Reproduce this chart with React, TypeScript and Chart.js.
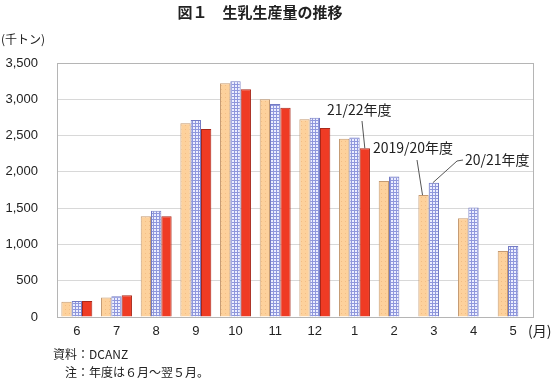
import React, { useEffect, useRef } from "react";
import { Chart, registerables } from "chart.js";

Chart.register(...registerables);

const categories = ["6", "7", "8", "9", "10", "11", "12", "1", "2", "3", "4", "5"];
const fy2019 = [210, 270, 1390, 2670, 3220, 3000, 2725, 2455, 1875, 1680, 1360, 910];
const fy2020 = [220, 285, 1465, 2715, 3250, 2935, 2745, 2475, 1935, 1850, 1510, 980];
const fy2021 = [220, 300, 1390, 2590, 3140, 2885, 2605, 2325, null, null, null, null];
const seriesNames = ["2019/20年度", "20/21年度", "21/22年度"];
const yTicks = [0, 500, 1000, 1500, 2000, 2500, 3000, 3500];

const titleText = "図１　生乳生産量の推移";
const unitText = "(千トン)";
const monthText = "(月)";
const sourceText = "資料：DCANZ";
const noteText = "注：年度は６月～翌５月。";

const JP = '"Noto Sans CJK JP", "Noto Sans", sans-serif';
const NUM = '"Liberation Sans", Arial, "Noto Sans CJK JP", sans-serif';

function makePattern(kind: "dots" | "grid") {
  const c = document.createElement("canvas");
  const ctx = c.getContext("2d")!;
  if (kind === "dots") {
    c.width = 4; c.height = 4;
    ctx.fillStyle = "#fdd19c";
    ctx.fillRect(0, 0, 4, 4);
    ctx.fillStyle = "#f2bd85";
    ctx.fillRect(1, 1, 1, 1);
  } else {
    c.width = 3; c.height = 3;
    ctx.fillStyle = "#eceeff";
    ctx.fillRect(0, 0, 3, 3);
    ctx.fillStyle = "#8f97dc";
    ctx.fillRect(0, 0, 3, 1);
    ctx.fillRect(0, 0, 1, 3);
  }
  return ctx.createPattern(c, "repeat")!;
}

const extrasPlugin = {
  id: "extras",
  afterDatasetsDraw(chart: any) {
    const ctx = chart.ctx;
    const { left, right, top, bottom } = chart.chartArea;
    ctx.save();
    // plot border
    ctx.strokeStyle = "#b5b5b5";
    ctx.lineWidth = 1;
    ctx.strokeRect(Math.round(left) + 0.5, Math.round(top) + 0.5, Math.round(right - left), Math.round(bottom - top));

    // leader lines
    const m0 = chart.getDatasetMeta(0).data;
    const m1 = chart.getDatasetMeta(1).data;
    const m2 = chart.getDatasetMeta(2).data;
    ctx.strokeStyle = "#555";
    ctx.lineWidth = 1;
    const line = (pts: number[][]) => {
      ctx.beginPath();
      ctx.moveTo(pts[0][0], pts[0][1]);
      for (let i = 1; i < pts.length; i++) ctx.lineTo(pts[i][0], pts[i][1]);
      ctx.stroke();
    };
    const r1 = m2[7];
    line([[362, 121], [r1.x, r1.y]]);
    const o3 = m0[9];
    line([[417, 160], [o3.x - 1, o3.y]]);
    const b3 = m1[9];
    line([[463, 160], [457, 161], [b3.x - 1, b3.y]]);

    ctx.fillStyle = "#222";
    ctx.font = `14px ${JP}`;
    ctx.textBaseline = "middle";
    ctx.textAlign = "left";
    ctx.fillText(seriesNames[2], 327, 110);
    ctx.fillText(seriesNames[0], 373, 148);
    ctx.fillText(seriesNames[1], 465, 160);

    // title
    ctx.textAlign = "center";
    ctx.font = `bold 15px ${JP}`;
    ctx.fillText(titleText, 260, 12);

    ctx.textAlign = "left";
    ctx.font = `12px ${JP}`;
    ctx.fillText(unitText, 1, 39);
    ctx.font = `14px ${JP}`;
    ctx.fillText(monthText, 528, 331);
    ctx.font = `12px ${JP}`;
    ctx.fillText(sourceText, 53, 354);
    ctx.fillText(noteText, 65, 372);
    ctx.restore();
  },
};

export default function App() {
  const ref = useRef<HTMLCanvasElement>(null);
  useEffect(() => {
    const canvas = ref.current!;
    const orange = makePattern("dots");
    const blue = makePattern("grid");
    const chart = new Chart(canvas, {
      type: "bar",
      data: {
        labels: categories,
        datasets: [
          { label: seriesNames[0], data: fy2019, backgroundColor: orange, borderColor: "#c49a72", borderWidth: 1 },
          { label: seriesNames[1], data: fy2020, backgroundColor: blue, borderColor: "#737bc4", borderWidth: 1 },
          { label: seriesNames[2], data: fy2021, backgroundColor: "#ef3b24", borderColor: "#a8281a", borderWidth: 1 },
        ],
      },
      options: {
        responsive: false,
        animation: false,
        layout: { padding: { left: 0, right: 25, top: 63, bottom: 0 } },
        plugins: { legend: { display: false }, tooltip: { enabled: false }, title: { display: false } },
        datasets: { bar: { categoryPercentage: 0.78, barPercentage: 1 } },
        scales: {
          x: {
            grid: { display: false, drawTicks: false },
            border: { display: false },
            ticks: { color: "#222", font: { family: NUM, size: 13 }, padding: 7, maxRotation: 0 },
            afterFit: (s: any) => { s.height = 384 - 317; },
          },
          y: {
            min: 0,
            max: 3500,
            afterBuildTicks: (s: any) => { s.ticks = yTicks.map((v) => ({ value: v })); },
            grid: { color: "#d8d8d8", drawTicks: false },
            border: { display: false },
            ticks: {
              color: "#222",
              font: { family: NUM, size: 13 },
              padding: 19,
              callback: (v: any) => Number(v).toLocaleString("en-US"),
            },
            afterFit: (s: any) => { s.width = 57; },
          },
        },
      },
      plugins: [extrasPlugin],
    } as any);
    return () => chart.destroy();
  }, []);
  return (
    <div style={{ position: "absolute", left: 0, top: 0, width: 558, height: 384, background: "#fff" }}>
      <canvas ref={ref} width={558} height={384} style={{ width: 558, height: 384 }} />
    </div>
  );
}
